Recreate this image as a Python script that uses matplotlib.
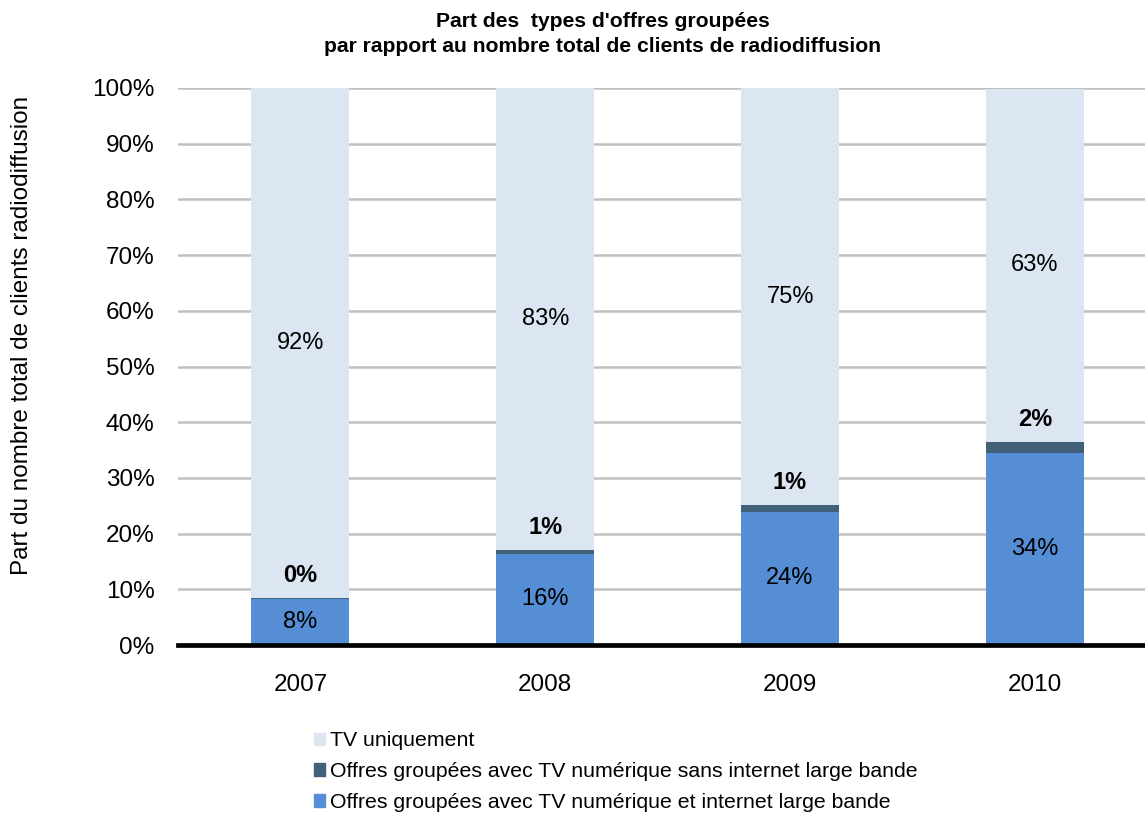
import matplotlib.pyplot as plt
from matplotlib.patches import Patch

plt.rcParams["font.family"] = ["Liberation Sans", "DejaVu Sans"]

years = ["2007", "2008", "2009", "2010"]
# share of broadcast customers (%)
internet_bundle = [8.2, 16.4, 23.9, 34.4]
tv_bundle_no_internet = [0.2, 0.6, 1.2, 2.1]
tv_only = [91.6, 83.0, 74.9, 63.4]

labels = [
    "TV uniquement",
    "Offres groupées avec TV numérique sans internet large bande",
    "Offres groupées avec TV numérique et internet large bande",
]
c_light = "#DCE6F2"
c_dark = "#426078"
c_blue = "#558ED5"

fig = plt.figure(figsize=(11.45, 8.14), dpi=100)
ax = fig.add_axes([178 / 1145, 1 - 645 / 814, 1 - 178 / 1145, 557 / 814])

x = range(len(years))
w = 0.4
mid_bottom = internet_bundle
top_bottom = [a + b for a, b in zip(internet_bundle, tv_bundle_no_internet)]

ax.bar(x, internet_bundle, w, color=c_blue, zorder=3)
ax.bar(x, tv_bundle_no_internet, w, bottom=mid_bottom, color=c_dark, zorder=3)
ax.bar(x, tv_only, w, bottom=top_bottom, color=c_light, zorder=3)

for i in x:
    ax.text(i, internet_bundle[i] / 2, f"{internet_bundle[i]:.0f}%",
            ha="center", va="center", fontsize=17, zorder=4)
    ax.text(i, top_bottom[i] + tv_only[i] / 2, f"{tv_only[i]:.0f}%",
            ha="center", va="center", fontsize=17, zorder=4)
    ax.annotate(f"{tv_bundle_no_internet[i]:.0f}%", (i, top_bottom[i]),
                xytext=(0, 8), textcoords="offset points",
                ha="center", va="bottom", fontsize=17, fontweight="bold", zorder=4)

ax.set_xlim(-0.5, 3.45)
ax.set_ylim(0, 100)
ax.set_yticks(range(0, 101, 10))
ax.set_yticklabels([f"{v}%" for v in range(0, 101, 10)], fontsize=17.5)
ax.set_xticks(list(x))
ax.set_xticklabels(years, fontsize=17.5)
ax.tick_params(axis="both", length=0)
ax.tick_params(axis="y", pad=17)
ax.tick_params(axis="x", pad=21)
ax.yaxis.grid(True, color="#C0C0C0", linewidth=1.8, zorder=0)
ax.set_axisbelow(True)
for side in ["left", "right", "top"]:
    ax.spines[side].set_visible(False)
ax.spines["bottom"].set_color("black")
ax.spines["bottom"].set_linewidth(3.4)
ax.spines["bottom"].set_zorder(5)

fig.text(22 / 1145, 1 - 335 / 814, "Part du nombre total de clients radiodiffusion",
         rotation=90, ha="center", va="center", fontsize=17.5)
fig.text(603 / 1145, 1 - 34 / 814,
         "Part des  types d'offres groupées\npar rapport au nombre total de clients de radiodiffusion",
         ha="center", va="center", fontsize=15.2, fontweight="bold", linespacing=1.35)

handles = [Patch(color=c_light), Patch(color=c_dark), Patch(color=c_blue)]
fig.legend(handles, labels, loc="upper left", bbox_to_anchor=(305 / 1145, 1 - 723 / 814),
           frameon=False, fontsize=15.3, handlelength=0.55, handleheight=0.55,
           handletextpad=0.25, labelspacing=0.55, borderaxespad=0)

fig.savefig("out.png", dpi=100)
